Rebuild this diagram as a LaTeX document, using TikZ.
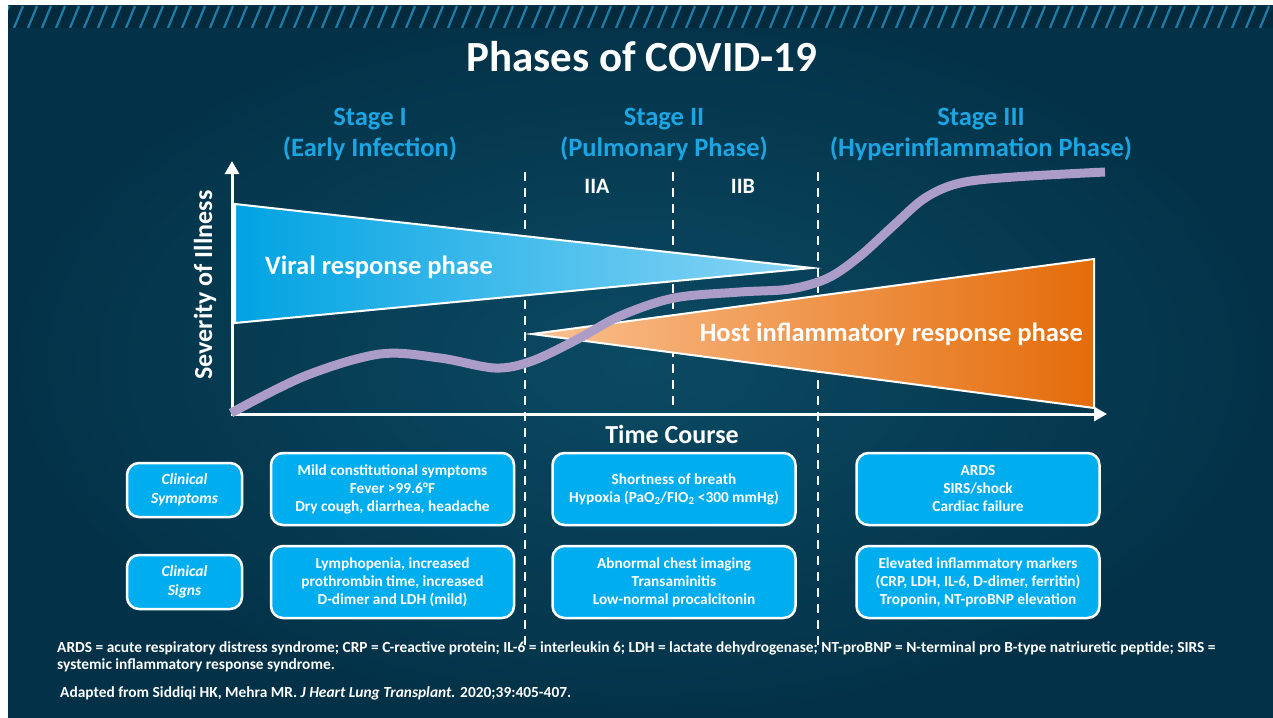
\documentclass[tikz,border=0pt]{standalone}
\usepackage{fontspec}
\setmainfont{Carlito}
\usetikzlibrary{arrows.meta}

\definecolor{bgdark}{RGB}{3,50,72}
\definecolor{bglight}{RGB}{11,74,99}
\definecolor{hatchblue}{RGB}{30,125,168}
\definecolor{stageblue}{RGB}{27,165,226}
\definecolor{boxblue}{RGB}{0,174,239}
\definecolor{viralleft}{RGB}{0,163,226}
\definecolor{viralright}{RGB}{140,214,246}
\definecolor{hostleft}{RGB}{250,192,144}
\definecolor{hostright}{RGB}{228,108,10}
\definecolor{curvepurple}{RGB}{171,157,200}

\newcommand{\fs}[2]{\fontsize{#1}{#2}\selectfont}

\tikzstyle{stagelabel} = [text=stageblue, font=\bfseries\fs{26.5}{31}, align=center]
\tikzstyle{sublabel} = [text=white, font=\bfseries\fs{22}{26}]
\tikzstyle{phaselabel} = [text=white, font=\bfseries\fs{26.5}{30}, inner sep=0pt]
\tikzstyle{axislabel} = [text=white, font=\bfseries\fs{26}{30}]
\tikzstyle{infobox} = [rectangle, rounded corners=12pt, draw=white, line width=2.5pt, fill=boxblue, text=white, font=\bfseries\fs{15.3}{18}, align=center, minimum width=243pt, minimum height=72pt, inner sep=2pt]
\tikzstyle{rowlabel} = [infobox, font=\bfseries\itshape\fs{15.5}{19}, minimum width=115pt, minimum height=54pt]
\tikzstyle{stagedash} = [white, line width=2pt, dash pattern=on 9pt off 7pt]
\tikzstyle{axis} = [white, line width=3pt, {Triangle[width=14pt,length=13pt]}-{Triangle[width=14pt,length=13pt]}]
\tikzstyle{footnote} = [text=white, font=\bfseries\fs{15.4}{17}, anchor=base west, inner sep=0pt]

\begin{document}
\begin{tikzpicture}[x=1pt, y=-1pt]

% Background and hatched band
\useasboundingbox (0,0) rectangle (1273,717);
\fill[white] (0,0) rectangle (1273,717);
\shade[inner color=bglight, outer color=bgdark] (8,6) rectangle (1273,717);
\begin{scope}
\clip (8,6) rectangle (1273,28);
\fill[bgdark!85!black] (8,6) rectangle (1273,28);
\foreach \x in {0,14,...,1290}
  \draw[hatchblue, line width=2.2pt] (\x,28) -- (\x+9,6);
\end{scope}

% Define nodes
\node (title) [text=white, font=\bfseries\fs{43}{48}] at (642,57) {Phases of COVID-19};
\node (stageI) [stagelabel] at (370,134) {Stage I\\(Early Infection)};
\node (stageII) [stagelabel] at (664,134) {Stage II\\(Pulmonary Phase)};
\node (stageIII) [stagelabel] at (981,134) {Stage III\\(Hyperinflammation Phase)};
\node (iia) [sublabel] at (597,186) {IIA};
\node (iib) [sublabel] at (743,186) {IIB};

% Axes and stage boundaries
\coordinate (origin) at (232,414);
\coordinate (ytip) at (232,161);
\coordinate (xtip) at (1107,414);
\foreach \x/\yend in {525/645, 673/410, 818/645}
  \draw[stagedash] (\x,172) -- (\x,\yend);
\draw[axis] (ytip) -- (origin) -- (xtip);
\node (severity) [axislabel, rotate=90] at (205,285) {Severity of Illness};
\node (timecourse) [axislabel] at (672,434) {Time Course};

% Response phases
\coordinate (vtop) at (235,204);
\coordinate (vbot) at (235,323);
\coordinate (vtip) at (812,268);
\shade[left color=viralleft, right color=viralright] (vtop) -- (vtip) -- (vbot) -- cycle;
\draw[white, line width=2pt] (vtop) -- (vtip) -- (vbot) -- cycle;
\coordinate (htip) at (532,334);
\coordinate (htop) at (1094,259);
\coordinate (hbot) at (1094,408);
\shade[left color=hostleft, right color=hostright] (htip) -- (htop) -- (hbot) -- cycle;
\draw[white, line width=2pt] (htip) -- (htop) -- (hbot) -- cycle;
\node (viral) [phaselabel, anchor=west] at (265,267) {Viral response phase};
\node (host) [phaselabel, anchor=east] at (1083,334) {Host inflammatory response phase};

% Severity curve
\draw[curvepurple, line width=9pt] plot[smooth, tension=0.55] coordinates {(231,413) (305,376) (380,354) (440,358) (495,368) (532,361) (578,339) (620,316) (674,298) (740,292) (790,289) (828,278) (860,256) (893,226) (925,198) (960,183) (1014,177) (1105,172)};

% Clinical boxes
\node (symptoms) [rowlabel] at (184.5,490) {Clinical\\Symptoms};
\node (signs) [rowlabel] at (184.5,582) {Clinical\\Signs};
\node (symI) [infobox] at (392.5,489) {Mild constitutional symptoms\\Fever >99.6°F\\Dry cough, diarrhea, headache};
\node (symII) [infobox] at (674,489) {Shortness of breath\\Hypoxia (PaO\textsubscript{2}/FIO\textsubscript{2} <300 mmHg)};
\node (symIII) [infobox] at (978,489) {ARDS\\SIRS/shock\\Cardiac failure};
\node (sigI) [infobox] at (392.5,582) {Lymphopenia, increased\\prothrombin time, increased\\D-dimer and LDH (mild)};
\node (sigII) [infobox] at (674,582) {Abnormal chest imaging\\Transaminitis\\Low-normal procalcitonin};
\node (sigIII) [infobox] at (978,582) {Elevated inflammatory markers\\(CRP, LDH, IL-6, D-dimer, ferritin)\\Troponin, NT-proBNP elevation};

% Footnotes
\node (abbrev) [footnote] at (57,652) {ARDS = acute respiratory distress syndrome; CRP = C-reactive protein; IL-6 = interleukin 6; LDH = lactate dehydrogenase; NT-proBNP = N-terminal pro B-type natriuretic peptide; SIRS =};
\node (abbrev2) [footnote] at (57,669) {systemic inflammatory response syndrome.};
\node (source) [footnote] at (60,697) {Adapted from Siddiqi HK, Mehra MR. \textit{J Heart Lung Transplant.} 2020;39:405-407.};

\end{tikzpicture}
\end{document}
